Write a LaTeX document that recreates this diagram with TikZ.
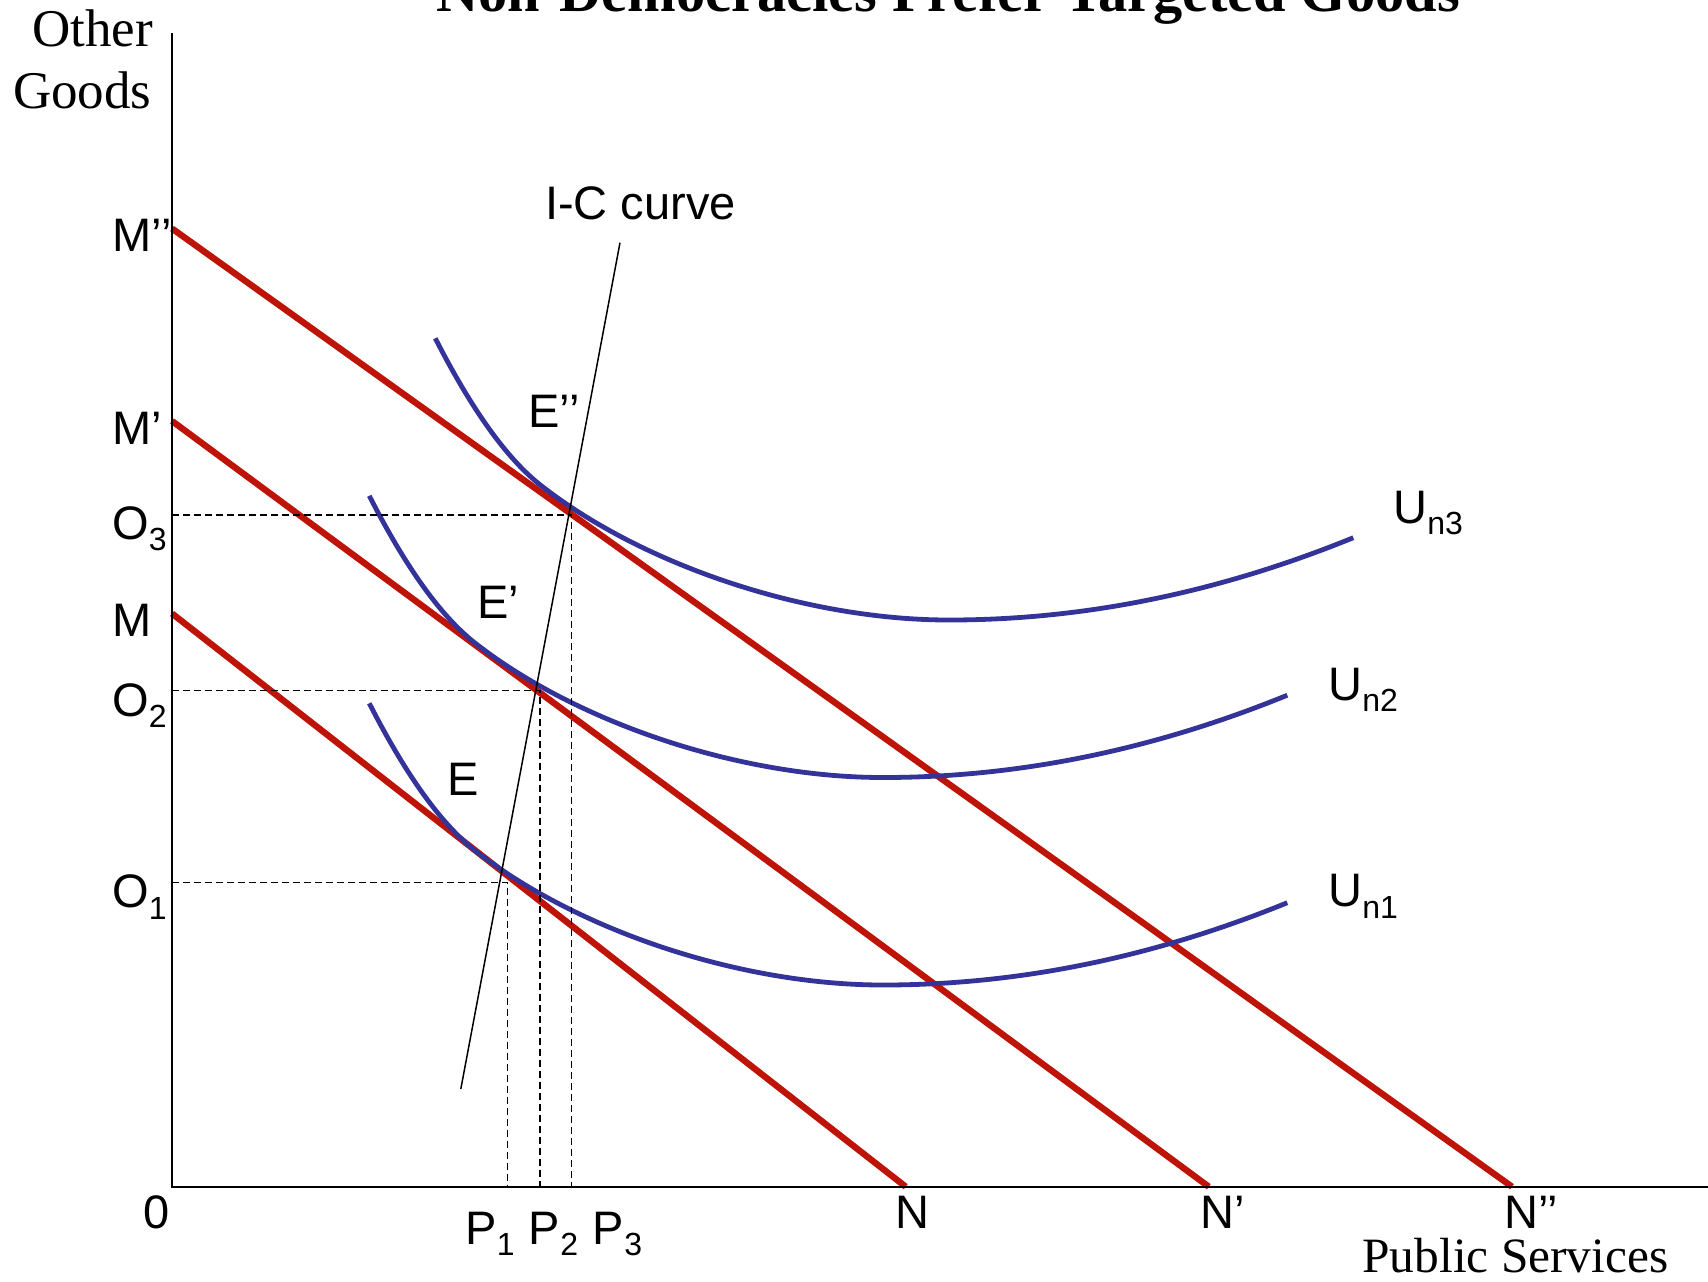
\documentclass[tikz,border=0pt]{standalone}
\usepackage{fontspec}
\setmainfont{Liberation Sans}
\newfontfamily\seriffont{Liberation Serif}
\definecolor{budgetred}{RGB}{190,20,8}
\definecolor{utilblue}{RGB}{51,51,153}
\newcommand\subsc[1]{\raisebox{-5.75pt}{\fontsize{16pt}{16pt}\selectfont #1}}
\newcommand\ucurvepath{(369.3,703.3) .. controls (405.8,774.9) and (441.1,824) .. (475,850.5) .. controls (578.3,931.2) and (741.5,985) .. (883,985) .. controls (1017.8,985) and (1152.5,957.6) .. (1287.3,902.7)}
\tikzset{
  lab/.style={font=\fontsize{23.5pt}{28pt}\selectfont, inner sep=0pt, anchor=base west},
  seriflab/.style={font=\seriffont\fontsize{26.5pt}{30pt}\selectfont, inner sep=0pt},
  pslab/.style={font=\seriffont\fontsize{24.7pt}{30pt}\selectfont, inner sep=0pt},
  titlest/.style={font=\seriffont\bfseries\fontsize{29.2pt}{34pt}\selectfont, inner sep=0pt},
  budget/.style={draw=budgetred, line width=3.2pt},
  util/.style={draw=utilblue, line width=2.4pt},
  axisline/.style={draw=black, line width=1pt},
  guide/.style={draw=black, line width=0.7pt, dash pattern=on 3.5pt off 2pt},
  icline/.style={draw=black, line width=0.75pt}
}
\begin{document}
\begin{tikzpicture}[x=0.5pt, y=-0.5pt]
\useasboundingbox (0,0) rectangle (1708,1281);
% coordinates
\coordinate (Org) at (172,1186.7);
\coordinate (Ytop) at (172,33);
\coordinate (Xend) at (1708,1186.7);
\coordinate (M0) at (172,613.5);
\coordinate (N0) at (905.7,1186.7);
\coordinate (M1) at (172,421);
\coordinate (N1) at (1208.8,1186.7);
\coordinate (M2) at (172,228.5);
\coordinate (N2) at (1512,1186.7);
\coordinate (ICbot) at (460.8,1089);
\coordinate (ICtop) at (620,242.7);
\coordinate (O1) at (172,882.3);
\coordinate (E1) at (507.7,882.3);
\coordinate (P1) at (507.7,1186.7);
\coordinate (O2) at (172,690.7);
\coordinate (E2) at (540,690.7);
\coordinate (P2) at (540,1186.7);
\coordinate (O3) at (172,515);
\coordinate (E3) at (571.7,515);
\coordinate (P3) at (571.7,1186.7);
% budget lines
\draw[budget] (M0) -- (N0);
\draw[budget] (M1) -- (N1);
\draw[budget] (M2) -- (N2);
% indifference curves
\draw[util] \ucurvepath;
\draw[util, shift={(0,-207.5)}] \ucurvepath;
\draw[util, shift={(66,-365)}] \ucurvepath;
% guides
\draw[guide] (O1) -- (E1) -- (P1);
\draw[guide] (O2) -- (E2) -- (P2);
\draw[guide] (O3) -- (E3) -- (P3);
% I-C curve
\draw[icline] (ICbot) -- (ICtop);
% axes
\draw[axisline] (Ytop) -- (Org) -- (Xend);
% labels
\node[titlest, anchor=base] (ttl) at (948,11) {Non-Democracies Prefer Targeted Goods};
\node[seriflab, anchor=base east] (lOther) at (153.5,46.7) {Other};
\node[seriflab, anchor=base east] (lGoods) at (152,108.3) {Goods};
\node[pslab, anchor=base west] (lPS) at (1362,1272.5) {Public Services};
\node[lab] (lM2) at (112,251.5) {M’’};
\node[lab] (lM1) at (112,444.5) {M’};
\node[lab] (lO3) at (112,539) {O\subsc{3}};
\node[lab] (lM0) at (112,636) {M};
\node[lab] (lO2) at (112,716) {O\subsc{2}};
\node[lab] (lO1) at (112,907.5) {O\subsc{1}};
\node[lab] (lzero) at (143,1228.5) {0};
\node[lab] (lP1) at (465,1244) {P\subsc{1}};
\node[lab] (lP2) at (528.5,1244) {P\subsc{2}};
\node[lab] (lP3) at (592.5,1244) {P\subsc{3}};
\node[lab] (lN0) at (895,1228) {N};
\node[lab] (lN1) at (1200,1228) {N’};
\node[lab] (lN2) at (1504,1228) {N’’};
\node[lab, anchor=base] (lE2) at (554,427) {E’’};
\node[lab, anchor=base] (lE1) at (498,618.5) {E’};
\node[lab, anchor=base] (lE0) at (462.7,795) {E};
\node[lab, anchor=base] (lIC) at (640.5,219.5) {I-C curve};
\node[lab] (lU3) at (1393,523) {U\subsc{n3}};
\node[lab] (lU2) at (1328,700) {U\subsc{n2}};
\node[lab] (lU1) at (1328,906.7) {U\subsc{n1}};
\end{tikzpicture}
\end{document}
